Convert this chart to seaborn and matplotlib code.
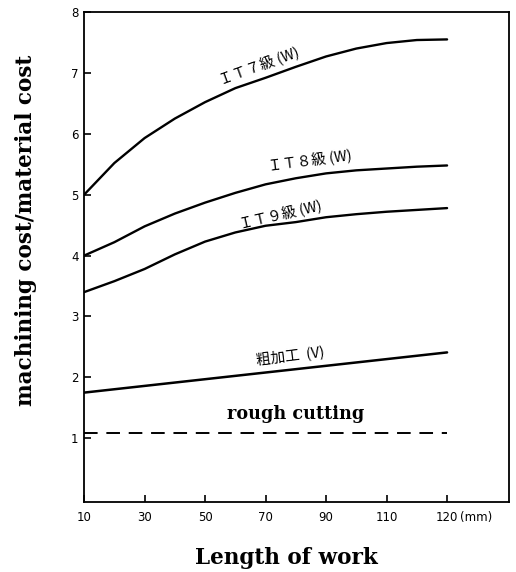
import matplotlib
matplotlib.use("Agg")
import matplotlib.pyplot as plt
import seaborn as sns
import pandas as pd
import numpy as np

# ---- data ----
length_labels = ["10", "30", "50", "70", "90", "110", "120"]
# curve readings at every half step between the labelled ticks (tick index units)
curve_pos = [0, 0.5, 1, 1.5, 2, 2.5, 3, 3.5, 4, 4.5, 5, 5.5, 6]
it7 = [5.00, 5.52, 5.93, 6.25, 6.52, 6.75, 6.92, 7.10, 7.27, 7.40, 7.49, 7.54, 7.55]
it8 = [4.00, 4.22, 4.48, 4.69, 4.87, 5.03, 5.17, 5.27, 5.35, 5.40, 5.43, 5.46, 5.48]
it9 = [3.40, 3.58, 3.78, 4.02, 4.23, 4.38, 4.49, 4.55, 4.63, 4.68, 4.72, 4.75, 4.78]
rough_pos = [0, 6]
rough = [1.75, 2.41]
rough_cutting = [1.08, 1.08]
y_ticks = [1, 2, 3, 4, 5, 6, 7, 8]

sns.set_style("ticks")
plt.rcParams['font.family'] = ['Noto Sans CJK JP', 'DejaVu Sans']
plt.rcParams['text.color'] = 'black'
plt.rcParams['axes.labelcolor'] = 'black'

df = pd.DataFrame({"pos": curve_pos, "it7": it7, "it8": it8, "it9": it9})
df2 = pd.DataFrame({"pos": rough_pos, "rough": rough, "rc": rough_cutting})

fig = plt.figure(figsize=(5.16, 5.72), dpi=100)
ax = fig.add_axes([0.163, 0.122, 0.823, 0.857])

for col in ["it7", "it8", "it9"]:
    sns.lineplot(data=df, x="pos", y=col, ax=ax, color="black", lw=1.7)
sns.lineplot(data=df2, x="pos", y="rough", ax=ax, color="black", lw=1.8)
sns.lineplot(data=df2, x="pos", y="rc", ax=ax, color="black", lw=1.4,
             linestyle=(0, (7, 4.5)))

ax.set_xlim(0, 7.02)
ax.set_ylim(-0.05, 8)
ax.set_xticks(range(len(length_labels)))
ax.set_xticklabels(length_labels, fontsize=8.5, family='DejaVu Sans')
ax.set_yticks(y_ticks)
ax.set_yticklabels([str(t) for t in y_ticks], fontsize=8.5, family='DejaVu Sans')
ax.tick_params(axis='both', direction='in', length=5, width=1.2, colors='black')
ax.tick_params(axis='x', pad=6)
ax.tick_params(axis='y', pad=4)
for s in ax.spines.values():
    s.set_linewidth(1.3)
    s.set_color('black')

ax.annotate("(mm)", xy=(len(length_labels) - 1, 0), xycoords=ax.get_xaxis_transform(),
            xytext=(9, -6), textcoords='offset points', va='top', ha='left',
            fontsize=8.5, family='DejaVu Sans')

ax.text(2.9, 7.1, "ＩＴ７級 (W)", rotation=20, ha='center', va='center', fontsize=10.5)
ax.text(3.74, 5.55, "ＩＴ８級 (W)", rotation=7.5, ha='center', va='center', fontsize=10.5)
ax.text(3.24, 4.66, "ＩＴ９級 (W)", rotation=13, ha='center', va='center', fontsize=10.5)
ax.text(3.4, 2.35, "粗加工  (V)", rotation=7, ha='center', va='center', fontsize=10.5)
ax.text(3.5, 1.40, "rough cutting", ha='center', va='center', fontsize=12.7,
        family='DejaVu Serif', fontweight='bold')

ax.set_xlabel("Length of work", fontsize=15.5, family='DejaVu Serif', fontweight='bold')
ax.set_ylabel("machining cost/material cost", fontsize=15.5, family='DejaVu Serif',
              fontweight='bold')
ax.xaxis.set_label_coords(0.477, -0.092)
ax.yaxis.set_label_coords(-0.11, 0.555)

fig.savefig("out.png", dpi=100)
